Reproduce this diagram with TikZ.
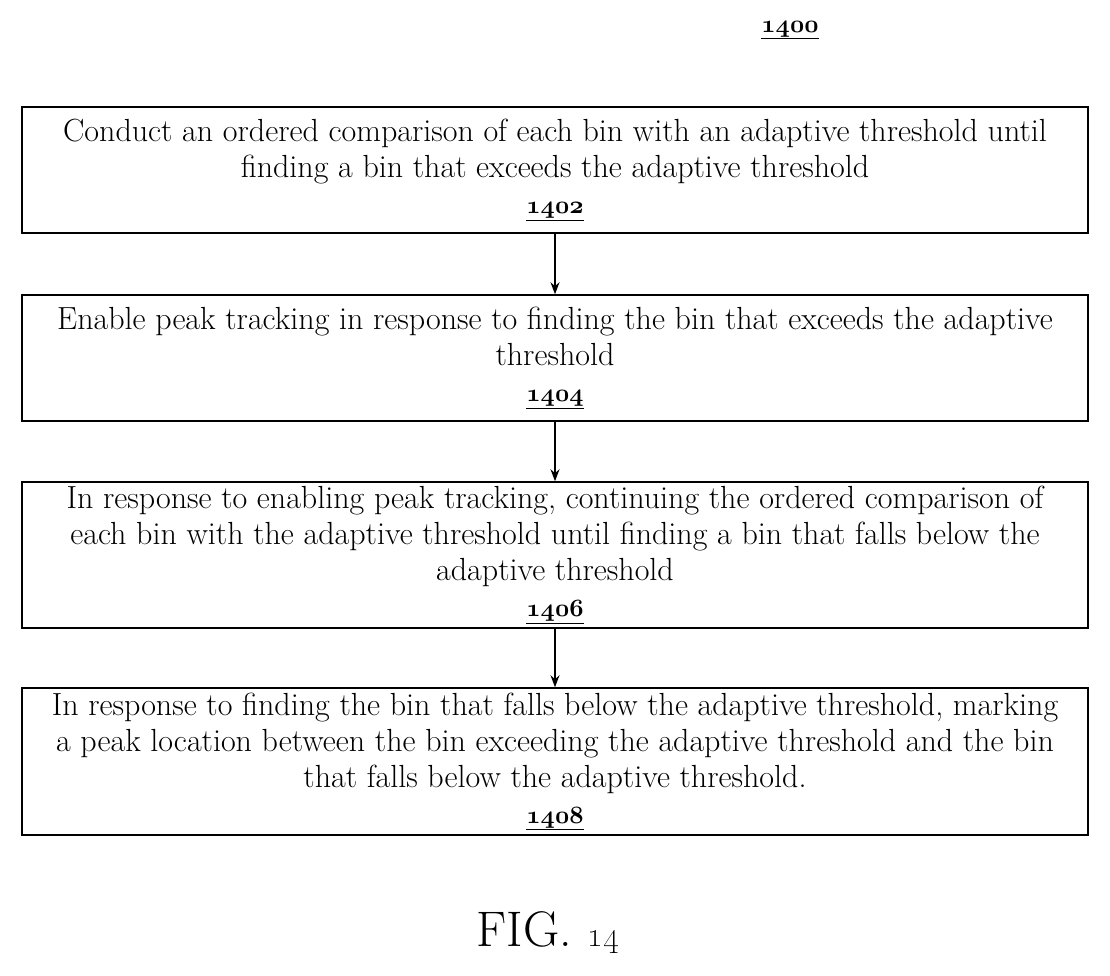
\documentclass[tikz,border=0pt]{standalone}
\usetikzlibrary{arrows.meta}
\begin{document}
\begin{tikzpicture}[x=1pt,y=-1pt,
  box/.style={draw,line width=1.5pt,minimum width=1066pt,align=center,font=\fontsize{32}{36}\selectfont},
  arr/.style={-{Stealth[length=12pt,width=9pt]},line width=1.2pt}]
\useasboundingbox (0,0) rectangle (1110,976);
\newcommand{\lbl}[1]{\underline{\usefont{OML}{cmm}{b}{it}#1}}
\node[font=\fontsize{32}{30}\selectfont] (t) at (790,30) {\lbl{1400}};
\node[box,minimum height=126pt] (b1) at (555,170) {Conduct an ordered comparison of each bin with an adaptive threshold until\\finding a bin that exceeds the adaptive threshold\\\lbl{1402}};
\node[box,minimum height=126pt] (b2) at (555,358) {Enable peak tracking in response to finding the bin that exceeds the adaptive\\threshold\\\lbl{1404}};
\node[box,minimum height=146pt] (b3) at (555,555) {In response to enabling peak tracking, continuing the ordered comparison of\\each bin with the adaptive threshold until finding a bin that falls below the\\adaptive threshold\\\lbl{1406}};
\node[box,minimum height=147pt] (b4) at (555,761.5) {In response to finding the bin that falls below the adaptive threshold, marking\\a peak location between the bin exceeding the adaptive threshold and the bin\\that falls below the adaptive threshold.\\\lbl{1408}};
\node[font=\fontsize{50}{54}\selectfont] (fig) at (548,932) {FIG. {\fontsize{62}{64}\selectfont\oldstylenums{14}}};
\draw[arr] (b1) -- (b2);
\draw[arr] (b2) -- (b3);
\draw[arr] (b3) -- (b4);
\end{tikzpicture}
\end{document}
